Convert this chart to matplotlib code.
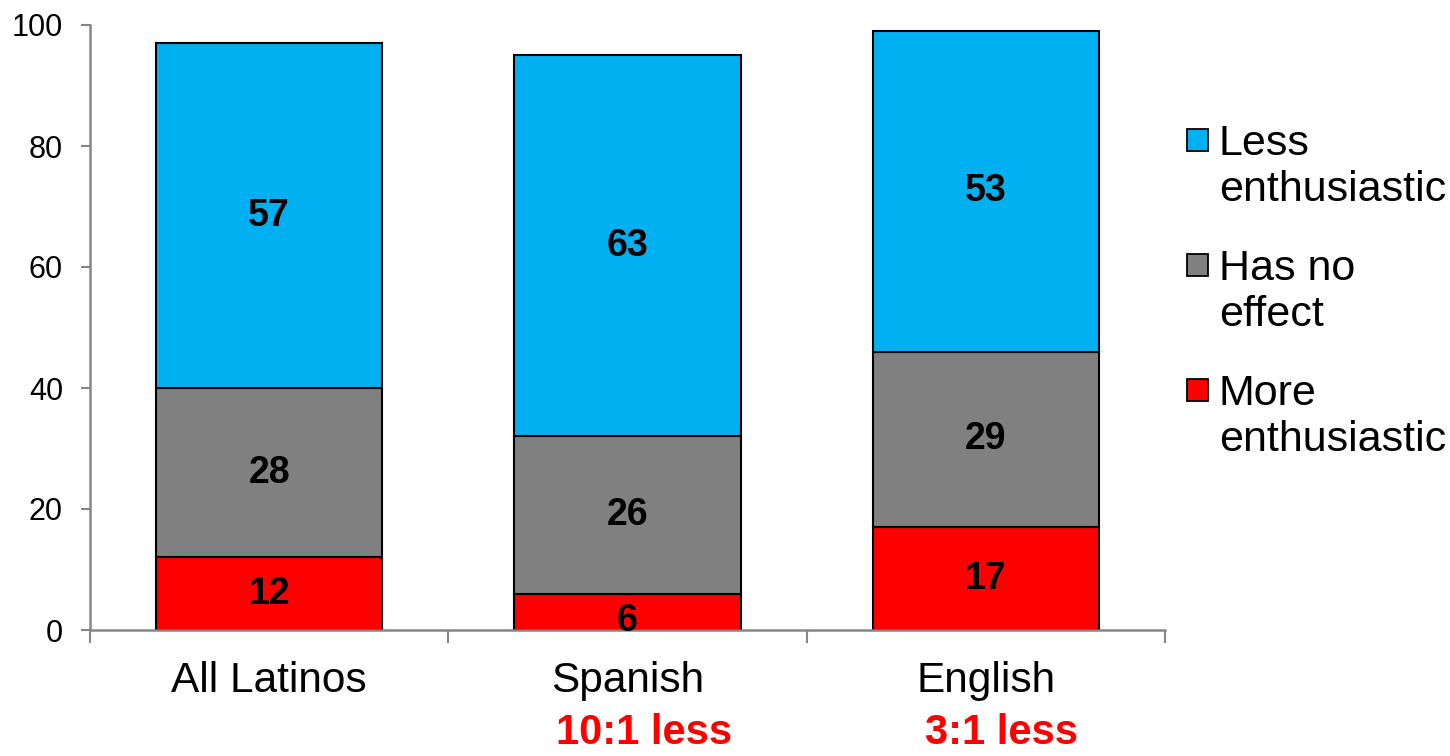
import numpy as np
import matplotlib.pyplot as plt
from matplotlib.ticker import FixedLocator
from matplotlib.patches import Rectangle

plt.rcParams['font.family'] = ['Liberation Sans', 'DejaVu Sans']

# data
groups = ['All Latinos', 'Spanish', 'English']
more_enth = [12, 6, 17]
no_effect = [28, 26, 29]
less_enth = [57, 63, 53]
notes = ['', '10:1 less', '3:1 less']
legend_labels = ['Less\nenthusiastic', 'Has no\neffect', 'More\nenthusiastic']

colors = {'more': '#FF0000', 'none': '#808080', 'less': '#00B0F0'}

W, H = 1450, 756
fig = plt.figure(figsize=(W / 100, H / 100), dpi=100)
ax = fig.add_axes([90 / W, 1 - 630 / H, (1165 - 90) / W, (630 - 25) / H])

x = np.arange(len(groups))
w = 0.632
bottom2 = np.array(more_enth)
bottom3 = bottom2 + np.array(no_effect)

b1 = ax.bar(x, more_enth, w, color=colors['more'], edgecolor='black', linewidth=1.5)
b2 = ax.bar(x, no_effect, w, bottom=bottom2, color=colors['none'], edgecolor='black', linewidth=1.5)
b3 = ax.bar(x, less_enth, w, bottom=bottom3, color=colors['less'], edgecolor='black', linewidth=1.5)

# segment labels
for vals, bots in [(more_enth, np.zeros(3)), (no_effect, bottom2), (less_enth, bottom3)]:
    for xi, v, b in zip(x, vals, bots):
        yy = b + v / 2 if v > 8 else b + v / 2 - 1.5
        ax.text(xi, yy, str(v), ha='center', va='center', fontsize=27, fontweight='bold')

ax.set_xlim(-0.5, 2.5)
ax.set_ylim(0, 100)
ax.set_yticks([0, 20, 40, 60, 80, 100])
ax.tick_params(axis='y', labelsize=22, length=6.5, width=1.5, color='#868686', direction='out', pad=13)
ax.set_xticks(x)
ax.set_xticklabels(groups)
ax.tick_params(axis='x', which='major', length=0, labelsize=30.5, pad=22)
ax.xaxis.set_minor_locator(FixedLocator([-0.5, 0.5, 1.5, 2.5]))
ax.tick_params(axis='x', which='minor', length=9, width=1.5, color='#868686', direction='out')

for s in ['top', 'right']:
    ax.spines[s].set_visible(False)
for s in ['left', 'bottom']:
    ax.spines[s].set_color('#868686')
    ax.spines[s].set_linewidth(1.8)

# notes under categories
for xi, n in zip(x, notes):
    if n:
        ax.text(xi + 0.045, -0.171, n, transform=ax.get_xaxis_transform(), ha='center', va='center',
                fontsize=30, fontweight='bold', color='#FF0000')

# legend, square next to the first line of each label
leg_colors = [colors['less'], colors['none'], colors['more']]
for i, (lab, c) in enumerate(zip(legend_labels, leg_colors)):
    top = 129 + 125 * i
    fig.patches.append(Rectangle((1187 / W, 1 - (top + 22) / H), 21 / W, 22 / H,
                                 transform=fig.transFigure, facecolor=c, edgecolor='black', linewidth=1.3))
    fig.text(1219 / W, 1 - (top - 5) / H, lab, ha='left', va='top', fontsize=31, linespacing=1.2)

fig.savefig('out.png', dpi=100)
